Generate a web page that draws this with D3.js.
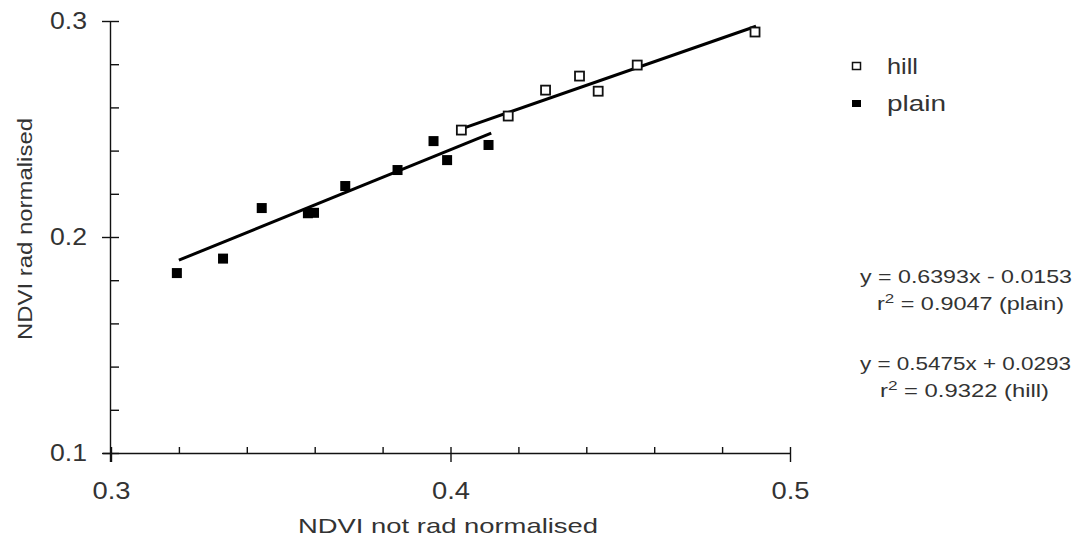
<!DOCTYPE html>
<html><head><meta charset="utf-8">
<script src="https://cdn.jsdelivr.net/npm/d3@7/dist/d3.min.js"></script>
<style>body{margin:0;background:#fff}svg{display:block}text{font-family:"Liberation Sans",Arial,sans-serif;fill:#333}</style>
</head><body><svg id="c" width="1078" height="539"></svg>
<script>
const plainX = [0.3194,0.3330,0.3444,0.3580,0.3598,0.3690,0.3844,0.3950,0.3990,0.4112];
const plainY = [0.1833,0.1900,0.2134,0.2110,0.2112,0.2236,0.2310,0.2444,0.2356,0.2426];
const hillX = [0.4032,0.4170,0.4280,0.4380,0.4435,0.4550,0.4897];
const hillY = [0.2495,0.2560,0.2680,0.2745,0.2675,0.2796,0.2949];
const plainFit = {slope:0.6393, intercept:-0.0153, x0:0.3200, x1:0.4120};
const hillFit = {slope:0.5475, intercept:0.0293, x0:0.4030, x1:0.4900};
const xTicks = [0.3,0.4,0.5];
const yTicks = [0.1,0.2,0.3];
const legendLabels = ["hill","plain"];
const eqLines = ["y =  0.6393x - 0.0153","(plain)","y = 0.5475x + 0.0293","(hill)"];
const r2Values = ["0.9047","0.9322"];

const svg = d3.select("#c");
const x = d3.scaleLinear().domain([0.3,0.5]).range([111,790]);
const y = d3.scaleLinear().domain([0.1,0.3]).range([453,21]);
const g = svg.append("g");

// minor ticks
const xMinor = d3.range(0.3,0.5001,0.02);
const yMinor = d3.range(0.1,0.3001,0.02);
g.append("g").attr("transform","translate(0,453)")
  .call(d3.axisBottom(x).tickValues(xMinor).tickSize(-6).tickFormat(""))
  .call(a=>a.select(".domain").remove());
g.append("g").attr("transform","translate(111,0)")
  .call(d3.axisLeft(y).tickValues(yMinor).tickSize(-8).tickFormat(""))
  .call(a=>a.select(".domain").remove());
// major ticks
const xa = g.append("g").attr("transform","translate(0,453)")
  .call(d3.axisBottom(x).tickValues(xTicks).tickSize(9).tickPadding(20).tickFormat(d3.format(".1f")).tickSizeOuter(0));
xa.select(".domain").attr("d","M103,0.5H790");
xa.selectAll("text").attr("font-size",24).attr("fill","#333").attr("textLength",38).attr("lengthAdjust","spacingAndGlyphs");
const ya = g.append("g").attr("transform","translate(111,0)")
  .call(d3.axisLeft(y).tickValues(yTicks).tickSize(9).tickPadding(15).tickFormat(d3.format(".1f")).tickSizeOuter(0));
ya.select(".domain").attr("d","M-0.5,21V462");
ya.selectAll("text").attr("font-size",24).attr("fill","#333").attr("textLength",37).attr("lengthAdjust","spacingAndGlyphs");
svg.selectAll(".tick line, .domain").attr("stroke","#111").attr("stroke-width",1.4);

// fit lines
[plainFit,hillFit].forEach(f=>{
  g.append("line")
   .attr("x1",x(f.x0)).attr("y1",y(f.slope*f.x0+f.intercept))
   .attr("x2",x(f.x1)).attr("y2",y(f.slope*f.x1+f.intercept))
   .attr("stroke","#000").attr("stroke-width",3);
});

const s = 10;
g.selectAll(".p").data(plainX).join("rect")
  .attr("x",(d,i)=>x(d)-s/2).attr("y",(d,i)=>y(plainY[i])-s/2)
  .attr("width",s).attr("height",s).attr("fill","#000");
g.selectAll(".h").data(hillX).join("rect")
  .attr("x",(d,i)=>x(d)-s/2+0.5).attr("y",(d,i)=>y(hillY[i])-s/2+0.5)
  .attr("width",s-1).attr("height",s-1).attr("fill","#fff").attr("stroke","#111").attr("stroke-width",1.8);

// legend
const lg = svg.append("g");
lg.append("rect").attr("x",852.5).attr("y",62.5).attr("width",8).attr("height",7).attr("fill","#fff").attr("stroke","#111").attr("stroke-width",1.5);
lg.append("rect").attr("x",852).attr("y",100).attr("width",9).attr("height",7).attr("fill","#000");
lg.append("text").attr("x",887).attr("y",74).attr("font-size",22).attr("textLength",31).attr("lengthAdjust","spacingAndGlyphs").text(legendLabels[0]);
lg.append("text").attr("x",887).attr("y",111).attr("font-size",22).attr("textLength",59).attr("lengthAdjust","spacingAndGlyphs").text(legendLabels[1]);

// equations
const eq = svg.append("g").attr("font-size",18);
eq.append("text").attr("x",860).attr("y",283).attr("textLength",212).attr("lengthAdjust","spacingAndGlyphs").text(eqLines[0]);
const t2 = eq.append("text").attr("x",877).attr("y",310).attr("textLength",187).attr("lengthAdjust","spacingAndGlyphs");
t2.append("tspan").text("r");
t2.append("tspan").attr("font-size",13).attr("dy",-7).text("2");
t2.append("tspan").attr("dy",7).text(" = "+r2Values[0]+" "+eqLines[1]);
eq.append("text").attr("x",860).attr("y",370).attr("textLength",211).attr("lengthAdjust","spacingAndGlyphs").text(eqLines[2]);
const t4 = eq.append("text").attr("x",880).attr("y",397).attr("textLength",169).attr("lengthAdjust","spacingAndGlyphs");
t4.append("tspan").text("r");
t4.append("tspan").attr("font-size",13).attr("dy",-7).text("2");
t4.append("tspan").attr("dy",7).text(" = "+r2Values[1]+" "+eqLines[3]);

// axis titles
svg.append("text").attr("x",298).attr("y",533).attr("font-size",21).attr("textLength",300).attr("lengthAdjust","spacingAndGlyphs").text("NDVI not rad normalised");
svg.append("text").attr("transform","translate(32,340) rotate(-90)").attr("font-size",21).attr("textLength",222).attr("lengthAdjust","spacingAndGlyphs").text("NDVI rad normalised");
</script></body></html>
